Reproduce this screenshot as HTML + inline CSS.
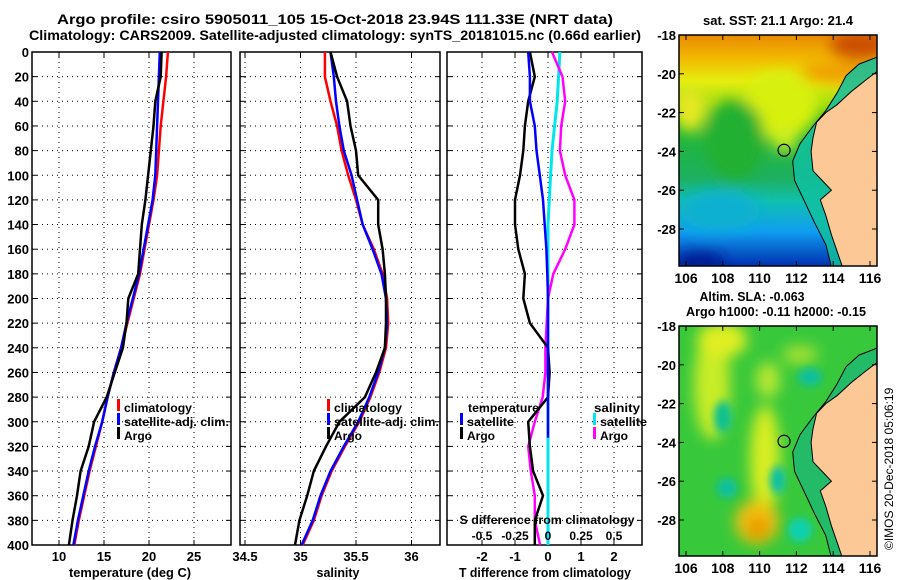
<!DOCTYPE html>
<html><head><meta charset="utf-8"><style>
body{margin:0;background:#fff;}
svg{display:block;font-family:"Liberation Sans",sans-serif;font-weight:bold;}
</style></head><body>
<svg id="fig" width="900" height="580" viewBox="0 0 900 580" xmlns="http://www.w3.org/2000/svg">
<defs>
<filter id="blur6" x="-50%" y="-50%" width="200%" height="200%"><feGaussianBlur stdDeviation="7"/></filter>
<filter id="blur3" x="-50%" y="-50%" width="200%" height="200%"><feGaussianBlur stdDeviation="4"/></filter>
<clipPath id="clipM1"><rect x="679" y="35" width="198" height="231"/></clipPath>
<clipPath id="clipM2"><rect x="679" y="326" width="198" height="230"/></clipPath>
<linearGradient id="sstGrad" x1="0" y1="0" x2="0" y2="1">
<stop offset="0" stop-color="#e88a00"/><stop offset="0.1" stop-color="#f2b800"/><stop offset="0.2" stop-color="#e6ee10"/>
<stop offset="0.3" stop-color="#9edc10"/><stop offset="0.38" stop-color="#22b830"/><stop offset="0.62" stop-color="#1eb060"/>
<stop offset="0.72" stop-color="#10c0b0"/><stop offset="0.85" stop-color="#109ef0"/><stop offset="1" stop-color="#0030b0"/>
</linearGradient>
</defs>
<text x="335" y="24" text-anchor="middle" font-size="14" textLength="556" lengthAdjust="spacingAndGlyphs">Argo profile: csiro 5905011_105 15-Oct-2018 23.94S 111.33E (NRT data)</text>
<text x="335" y="40" text-anchor="middle" font-size="14" textLength="612" lengthAdjust="spacingAndGlyphs">Climatology: CARS2009. Satellite-adjusted climatology: synTS_20181015.nc (0.66d earlier)</text>
<g id="charts"></g>
<g id="maps"></g>
<text transform="translate(893,550) rotate(-90)" font-size="12" font-weight="normal">©IMOS 20-Dec-2018 05:06:19</text>
</svg>
<script>
// ---- data ----
const depthLevels = [0,20,40,60,80,100,120,140,160,180,200,220,240,260,280,300,320,340,360,380,400];
const tempClim  = [22.1,21.9,21.6,21.3,21.1,20.9,20.5,20.0,19.5,19.0,18.3,17.6,16.9,16.1,15.4,14.8,14.1,13.4,12.8,12.2,11.7];
const tempSat   = [21.2,21.1,21.0,20.9,20.8,20.7,20.4,19.9,19.4,18.9,18.2,17.5,16.9,16.1,15.4,14.8,14.0,13.3,12.7,12.1,11.6];
const tempArgo  = [21.4,21.3,20.7,20.5,20.2,19.9,19.6,19.2,19.0,18.8,17.7,17.5,17.1,16.2,15.3,13.9,13.3,12.4,12.0,11.5,11.1];
const salClim   = [35.22,35.22,35.27,35.33,35.37,35.43,35.50,35.56,35.66,35.74,35.78,35.79,35.77,35.71,35.63,35.53,35.40,35.28,35.19,35.12,35.02];
const salSat    = [35.27,35.30,35.32,35.35,35.39,35.46,35.51,35.56,35.65,35.73,35.77,35.78,35.76,35.70,35.62,35.52,35.39,35.27,35.18,35.11,35.01];
const salArgo   = [35.27,35.33,35.42,35.45,35.50,35.52,35.70,35.70,35.74,35.76,35.77,35.77,35.76,35.68,35.58,35.35,35.23,35.12,35.06,34.99,34.95];
const dTempSat  = [-0.6,-0.55,-0.55,-0.4,-0.35,-0.25,-0.15,-0.1,-0.05,-0.02,0,0,0,0,0,0,0];
const dTempSatDepth = [0,20,40,60,80,100,120,140,160,180,200,220,240,260,280,300,313];
const dTempArgo = [-0.55,-0.4,-0.6,-0.7,-0.75,-0.85,-1.0,-1.0,-0.9,-0.7,-0.75,-0.55,0,0.05,0,-0.6,-0.55,-0.45,-0.15,-0.4,-0.4];
const dSalArgo  = [0.03,0.11,0.13,0.10,0.09,0.13,0.20,0.20,0.13,0.04,0.0,-0.01,-0.02,-0.02,-0.04,-0.1,-0.15,-0.13,-0.1,-0.1,-0.06];
const dSalSat   = [0.09,0.08,0.07,0.05,0.03,0.02,0.01,0,0,0,0,0,0,0,0,0,0,0,0,0,0];
const depthTicks = [0,20,40,60,80,100,120,140,160,180,200,220,240,260,280,300,320,340,360,380,400];
const tempTicks = [10,15,20,25];
const salTicks = [34.5,35,35.5,36];
const dTTicks = [-2,-1,0,1,2];
const dSTicks = [-0.5,-0.25,0,0.25,0.5];
const latTicks = [-18,-20,-22,-24,-26,-28];
const lonTicks = [106,108,110,112,114,116];

const NS="http://www.w3.org/2000/svg";
const charts=document.getElementById('charts');
function mk(tag,attrs,parent){const e=document.createElementNS(NS,tag);for(const k in attrs)e.setAttribute(k,attrs[k]);(parent||charts).appendChild(e);return e;}
const top0=52,bot0=545;
function y(d){return top0+(bot0-top0)*d/400;}
function xT(t){return 59+(t-10)*9;}
function xS(s){return 245+(s-34.5)*111;}
function xD(v){return 548+v*33;}
function xDS(v){return 548+v*132;}

function panel(name){
  const g=mk('g',{});
  
  
  return g;
}
function frame(g,x0,x1,vticks,fx,labels,ylabels,name){
  depthTicks.forEach(d=>{
    if(d>0&&d<400){const l=mk('line',{x1:x0,x2:x1,y1:y(d),y2:y(d),stroke:'#000','stroke-dasharray':'1,4','stroke-width':1},g);
    }
    mk('line',{x1:x0,x2:x0+5,y1:y(d),y2:y(d),stroke:'#000'},g);
    mk('line',{x1:x1-5,x2:x1,y1:y(d),y2:y(d),stroke:'#000'},g);
    if(ylabels){const t=mk('text',{x:x0-3,y:y(d)+5,'text-anchor':'end','font-size':13},g);t.textContent=d;
      }
  });
  vticks.forEach(v=>{const X=fx(v);
    const l=mk('line',{x1:X,x2:X,y1:top0,y2:bot0,stroke:'#000','stroke-dasharray':'1,4'},g);
    
    mk('line',{x1:X,x2:X,y1:bot0-5,y2:bot0,stroke:'#000'},g);
    mk('line',{x1:X,x2:X,y1:top0,y2:top0+5,stroke:'#000'},g);
    if(labels){const t=mk('text',{x:X,y:561,'text-anchor':'middle','font-size':13},g);t.textContent=v;
      }
  });
  const r=mk('rect',{x:x0,y:top0,width:x1-x0,height:bot0-top0,fill:'none',stroke:'#000','stroke-width':1.5},g);
  
}
function line(g,xs,ds,color,name,w){
  const p=xs.map((v,i)=>`${i?'L':'M'}${v.toFixed(1)},${y(ds[i]).toFixed(1)}`).join('');
  const e=mk('path',{d:p,fill:'none',stroke:color,'stroke-width':w||2.5},g);
  
  
}
function txt(g,x,yy,s,name,anchor,size,len){const a={x:x,y:yy,'font-size':size||13,'text-anchor':anchor||'start'};
  if(len){a.textLength=len;a.lengthAdjust='spacingAndGlyphs';}
  const t=mk('text',a,g);t.textContent=s;
  return t;}
function mark(g,x,yy,color){mk('rect',{x:x,y:yy-10,width:3,height:12,fill:color},g);}

// Panel 1
const g1=panel('temperature-panel');
frame(g1,32,231,tempTicks,xT,true,true,'temperature');
line(g1,tempClim.map(xT),depthLevels,'#ff0000','temp-climatology-line');
line(g1,tempSat.map(xT),depthLevels,'#0000ff','temp-satellite-line');
line(g1,tempArgo.map(xT),depthLevels,'#000','temp-argo-line');
mark(g1,117,409,'#ff0000');txt(g1,124,412,'climatology','legend-climatology',null,12,68);
mark(g1,117,423,'#0000ff');txt(g1,124,426,'satellite-adj. clim.','legend-satellite',null,12,105);
mark(g1,117,437,'#000');txt(g1,124,440,'Argo','legend-argo',null,12,28);
txt(g1,130,577,'temperature (deg C)','temperature-axis-title','middle',13,122);

// Panel 2
const g2=panel('salinity-panel');
frame(g2,240,440,salTicks,xS,true,false,'salinity');
line(g2,salClim.map(xS),depthLevels,'#ff0000','sal-climatology-line');
line(g2,salSat.map(xS),depthLevels,'#0000ff','sal-satellite-line');
line(g2,salArgo.map(xS),depthLevels,'#000','sal-argo-line');
mark(g2,327,409,'#ff0000');txt(g2,334,412,'climatology','legend-climatology',null,12,68);
mark(g2,327,423,'#0000ff');txt(g2,334,426,'satellite-adj. clim.','legend-satellite',null,12,105);
mark(g2,327,437,'#000');txt(g2,334,440,'Argo','legend-argo',null,12,28);
txt(g2,338,577,'salinity','salinity-axis-title','middle',13,43);

// Panel 3
const g3=panel('difference-panel');
frame(g3,447,642,dTTicks,xD,true,false,'difference');
line(g3,dSalSat.map(xDS),depthLevels,'#00e5ee','sal-diff-satellite-line',3);
line(g3,dSalArgo.map(xDS),depthLevels,'#ff00ff','sal-diff-argo-line');
line(g3,dTempArgo.map(xD),depthLevels,'#000','temp-diff-argo-line');
line(g3,dTempSat.map(xD),dTempSatDepth,'#0000ff','temp-diff-satellite-line');
txt(g3,468,412,'temperature','legend-temperature-header',null,12,71);
mark(g3,460,423,'#0000ff');txt(g3,467,426,'satellite','legend-temp-satellite',null,12,47);
mark(g3,460,437,'#000');txt(g3,467,440,'Argo','legend-temp-argo',null,12,28);
txt(g3,594,412,'salinity','legend-salinity-header',null,12,46);
mark(g3,593,423,'#00e5ee');txt(g3,600,426,'satellite','legend-sal-satellite',null,12,47);
mark(g3,593,437,'#ff00ff');txt(g3,600,440,'Argo','legend-sal-argo',null,12,28);
txt(g3,547,524,'S difference from climatology','s-diff-axis-title','middle',12,175);
dSTicks.forEach(v=>txt(g3,xDS(v),540,v,'s-diff-tick-label','middle',12));
txt(g3,545,577,'T difference from climatology','t-diff-axis-title','middle',13,172);

// ---- maps ----
const maps=document.getElementById('maps');
function mlon(l){return 686+(l-106)*18.4;}
function mlat(la,top){return top+(-18-la)*19.4;}
const coastLonLat=[[116.5,-19.8],[115.8,-20.3],[115.0,-20.9],[114.2,-21.6],[113.6,-22.0],[113.1,-22.5],[112.9,-23.3],[112.8,-24.0],[112.9,-25.0],[113.4,-25.5],[113.9,-26.0],[113.3,-26.5],[113.6,-27.3],[113.9,-28.3],[114.5,-29.95]];
const shelfLonLat=[[116.5,-19.1],[115.4,-19.5],[114.7,-20.1],[114.2,-21.0],[113.6,-21.9],[112.9,-22.7],[112.2,-23.6],[111.8,-24.5],[111.9,-25.5],[112.4,-26.5],[113.0,-27.7],[113.6,-28.8],[113.9,-29.95]];
function mapFrame(g,top,h){
  latTicks.forEach(la=>{const Y=mlat(la,top);
    mk('line',{x1:679,x2:684,y1:Y,y2:Y,stroke:'#000'},g);mk('line',{x1:872,x2:877,y1:Y,y2:Y,stroke:'#000'},g);
    txt(g,676,Y+5,la,'lat-tick-label','end');});
  lonTicks.forEach(lo=>{const X=mlon(lo);
    mk('line',{x1:X,x2:X,y1:top,y2:top+5,stroke:'#000'},g);mk('line',{x1:X,x2:X,y1:top+h-5,y2:top+h,stroke:'#000'},g);
    txt(g,X,top+h+17,lo,'lon-tick-label','middle',14);});
  mk('rect',{x:679,y:top,width:198,height:h,fill:'none',stroke:'#000','stroke-width':1.5},g);
}
function pts(arr,top){return arr.map(p=>`${mlon(p[0]).toFixed(1)},${mlat(p[1],top).toFixed(1)}`);}
function land(g,top,h,stripColor){
  const strip=mk('polygon',{points:pts(shelfLonLat,top).concat(pts(coastLonLat,top).reverse()).join(' '),fill:stripColor,opacity:0.85},g);
  
  const e=mk('polygon',{points:pts(coastLonLat,top).join(' ')+` 880,${top+h+2} 880,${mlat(-19.8,top)}`,fill:'#fbc896',stroke:'#000','stroke-width':1},g);
  
  const s=mk('polyline',{points:pts(shelfLonLat,top).join(' '),fill:'none',stroke:'#000','stroke-width':1},g);
  
  const c=mk('circle',{cx:mlon(111.33),cy:mlat(-23.94,top),r:6,fill:'none',stroke:'#000','stroke-width':1.2},g);
  
}
// SST map
const m1=mk('g',{},maps);


const m1c=mk('g',{'clip-path':'url(#clipM1)'},m1);
mk('rect',{x:679,y:35,width:198,height:231,fill:'url(#sstGrad)'},m1c);
const b1=mk('g',{filter:'url(#blur6)'},m1c);
mk('ellipse',{cx:690,cy:110,rx:16,ry:22,fill:'#e6e820'},b1);
mk('ellipse',{cx:780,cy:105,rx:38,ry:35,fill:'#d8f010'},b1);
mk('ellipse',{cx:785,cy:140,rx:12,ry:12,fill:'#ccee20'},b1);
mk('ellipse',{cx:735,cy:140,rx:30,ry:40,fill:'#20b030'},b1);
mk('ellipse',{cx:860,cy:45,rx:30,ry:15,fill:'#cc5000'},b1);
mk('ellipse',{cx:840,cy:72,rx:40,ry:12,fill:'#f0a000'},b1);
mk('ellipse',{cx:720,cy:210,rx:40,ry:20,fill:'#10b0d0'},b1);
mk('ellipse',{cx:700,cy:262,rx:25,ry:10,fill:'#001a90'},b1);
land(m1c,35,231,'#10c0a0');
mapFrame(m1,35,231);
txt(m1,778,25,'sat. SST: 21.1 Argo: 21.4','sst-map-title','middle',13,150);
// SLA map
const m2=mk('g',{},maps);


const m2c=mk('g',{'clip-path':'url(#clipM2)'},m2);
mk('rect',{x:679,y:326,width:198,height:230,fill:'#38c83c'},m2c);
const b2=mk('g',{filter:'url(#blur6)'},m2c);
mk('ellipse',{cx:712,cy:385,rx:18,ry:55,fill:'#c8ec28'},b2);
mk('ellipse',{cx:722,cy:340,rx:25,ry:18,fill:'#e0ee20'},b2);
mk('ellipse',{cx:768,cy:380,rx:12,ry:18,fill:'#b8e830'},b2);
mk('ellipse',{cx:765,cy:460,rx:15,ry:55,fill:'#d8ee20'},b2);
mk('ellipse',{cx:757,cy:522,rx:22,ry:22,fill:'#f0c010'},b2);
mk('ellipse',{cx:758,cy:528,rx:10,ry:10,fill:'#e89000'},b2);
mk('ellipse',{cx:800,cy:355,rx:18,ry:10,fill:'#a0e030'},b2);
const b3=mk('g',{filter:'url(#blur3)'},m2c);
mk('ellipse',{cx:723,cy:417,rx:9,ry:16,fill:'#10c090'},b3);
mk('ellipse',{cx:727,cy:488,rx:10,ry:10,fill:'#10c0a0'},b3);
mk('ellipse',{cx:778,cy:480,rx:8,ry:14,fill:'#10c0a0'},b3);
mk('ellipse',{cx:800,cy:530,rx:12,ry:12,fill:'#10d0b0'},b3);
mk('ellipse',{cx:810,cy:377,rx:12,ry:9,fill:'#10c0a0'},b3);
land(m2c,326,230,'#20b870');
mapFrame(m2,326,230);
txt(m2,752,301,'Altim. SLA: -0.063','sla-map-title-1','middle',13,105);
txt(m2,776,316,'Argo h1000: -0.11 h2000: -0.15','sla-map-title-2','middle',13,180);
</script>
</body></html>
